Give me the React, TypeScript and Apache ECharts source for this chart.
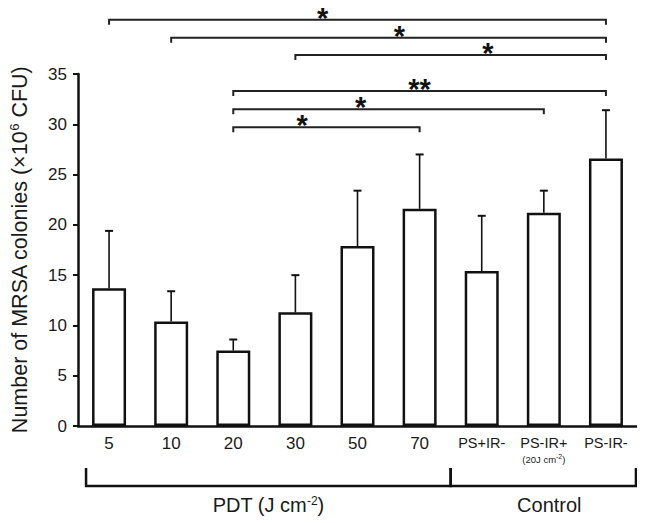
import React, { useEffect, useRef } from "react";
import * as echarts from "echarts";

const categories = ["5", "10", "20", "30", "50", "70", "PS+IR-", "PS-IR+", "PS-IR-"];
const subLabels = ["", "", "", "", "", "", "", "(20J cm", ""];
const means = [13.7, 10.4, 7.5, 11.3, 17.9, 21.6, 15.4, 21.2, 26.6];
const errTop = [19.4, 13.4, 8.6, 15.0, 23.4, 27.0, 20.9, 23.4, 31.4];

const yMin = 0;
const yMax = 35;
const yInterval = 5;

const sigFrom = [0, 1, 3, 2, 2, 2];
const sigTo = [8, 8, 8, 8, 7, 5];
const sigLevel = [40.4, 38.6, 36.9, 33.3, 31.5, 29.7];
const sigMark = ["*", "*", "*", "**", "*", "*"];
const sigStarAt = [0.43, 0.525, 0.62, 0.5, 0.41, 0.37];

const groupNames = ["PDT", "Control"];
const groupFrom = [0, 6];
const groupTo = [5, 8];

const FONT = '"Liberation Sans", Arial, Helvetica, sans-serif';

export default function App() {
  const ref = useRef<HTMLDivElement>(null);
  useEffect(() => {
    if (!ref.current) return;
    const chart = echarts.init(ref.current, undefined, { renderer: "svg" });

    const option: any = {
      animation: false,
      backgroundColor: "#ffffff",
      grid: { left: 75, right: 8, top: 74, bottom: 97, containLabel: false },
      xAxis: {
        type: "category",
        data: categories,
        axisLine: { show: true, lineStyle: { color: "#111", width: 2.5 } },
        axisTick: { show: false },
        axisLabel: {
          margin: 7,
          interval: 0,
          formatter: (v: string, i: number) => {
            if (i < 6) return `{n|${v}}`;
            if (subLabels[i]) return `{p|${v}}\n{s|${subLabels[i]}}{sup|-2}{s|)}`;
            return `{p|${v}}`;
          },
          rich: {
            n: { fontFamily: FONT, fontSize: 17, color: "#1a1a1a", lineHeight: 20 },
            p: { fontFamily: FONT, fontSize: 14.5, color: "#1a1a1a", lineHeight: 20 },
            s: { fontFamily: FONT, fontSize: 9.5, color: "#1a1a1a", lineHeight: 12 },
            sup: { fontFamily: FONT, fontSize: 7, color: "#1a1a1a", lineHeight: 12, padding: [0, 0, 5, 0] },
          },
        },
        splitLine: { show: false },
      },
      yAxis: {
        type: "value",
        min: yMin,
        max: yMax,
        interval: yInterval,
        name: "{a|Number of MRSA colonies (×10}{sup|6}{a| CFU)}",
        nameLocation: "middle",
        nameGap: 47,
        nameTextStyle: {
          rich: {
            a: { fontFamily: FONT, fontSize: 21.5, color: "#1a1a1a" },
            sup: { fontFamily: FONT, fontSize: 13, color: "#1a1a1a", padding: [0, 0, 10, 0] },
          },
        },
        axisLine: { show: true, lineStyle: { color: "#111", width: 2.5 } },
        axisTick: { show: true, inside: false, length: 5, lineStyle: { color: "#111", width: 2 } },
        axisLabel: { fontFamily: FONT, fontSize: 17, color: "#1a1a1a", margin: 11 },
        splitLine: { show: false },
      },
      series: [
        {
          type: "bar",
          data: means,
          barWidth: 34,
          itemStyle: { color: "#ffffff", borderColor: "#111", borderWidth: 2.5 },
          z: 2,
        },
        {
          type: "custom",
          z: 3,
          data: errTop.map((v, i) => [i, v]),
          renderItem: (params: any, api: any) => {
            const i = api.value(0);
            const top = api.coord([i, api.value(1)]);
            const base = api.coord([i, means[i]]);
            const half = 4;
            return {
              type: "group",
              children: [
                { type: "line", shape: { x1: top[0], y1: base[1], x2: top[0], y2: top[1] }, style: { stroke: "#111", lineWidth: 1.6 } },
                { type: "line", shape: { x1: top[0] - half, y1: top[1], x2: top[0] + half, y2: top[1] }, style: { stroke: "#111", lineWidth: 2 } },
              ],
            };
          },
        },
        {
          type: "custom",
          z: 3,
          clip: false,
          data: sigFrom.map((f, k) => [f, sigLevel[k]]),
          renderItem: (params: any, api: any) => {
            const k = params.dataIndex;
            const a = api.coord([sigFrom[k], sigLevel[k]]);
            const b = api.coord([sigTo[k], sigLevel[k]]);
            const drop = 5;
            const sx = a[0] + (b[0] - a[0]) * sigStarAt[k];
            return {
              type: "group",
              children: [
                { type: "polyline", shape: { points: [[a[0], a[1] + drop], [a[0], a[1]], [b[0], b[1]], [b[0], b[1] + drop]] }, style: { stroke: "#222", lineWidth: 2, fill: "none" } },
                { type: "text", x: sx, y: a[1] - 2, style: { text: sigMark[k], font: `bold 29px ${FONT}`, fill: "#111111", stroke: "none", align: "center", verticalAlign: "middle" } },
              ],
            };
          },
        },
        {
          type: "custom",
          z: 3,
          clip: false,
          data: groupFrom.map((f, k) => [f, 0]),
          renderItem: (params: any, api: any) => {
            const k = params.dataIndex;
            const band = api.size([1, 0])[0];
            const p0 = api.coord([groupFrom[k], 0]);
            const p1 = api.coord([groupTo[k], 0]);
            const left = k === 0 ? p0[0] - 23 : p0[0] - band / 2;
            const right = k === 0 ? p1[0] + band / 2 : p1[0] + 30;
            const yb = p0[1] + 60;
            const yt = p0[1] + 42;
            const cx = (left + right) / 2;
            const label = k === 0
              ? { type: "text", x: cx, y: yb + 19, style: { text: "{a|PDT (J cm}{sup|-2}{a|)}", rich: { a: { fontFamily: FONT, fontSize: 20, fill: "#1a1a1a", color: "#1a1a1a" }, sup: { fontFamily: FONT, fontSize: 12, fill: "#1a1a1a", color: "#1a1a1a", padding: [0, 0, 9, 0] } }, align: "center", verticalAlign: "middle" } }
              : { type: "text", x: cx + 6, y: yb + 19, style: { text: groupNames[k], fontFamily: FONT, fontSize: 20, fill: "#1a1a1a", align: "center", verticalAlign: "middle" } };
            return {
              type: "group",
              children: [
                { type: "polyline", shape: { points: [[left, yt], [left, yb], [right, yb], [right, yt]] }, style: { stroke: "#111", lineWidth: 2.5, fill: "none" } },
                label,
              ],
            };
          },
        },
      ],
    };
    chart.setOption(option);
    return () => chart.dispose();
  }, []);
  return <div ref={ref} style={{ width: 645, height: 523, marginLeft: -8, marginTop: -8 }} />;
}
